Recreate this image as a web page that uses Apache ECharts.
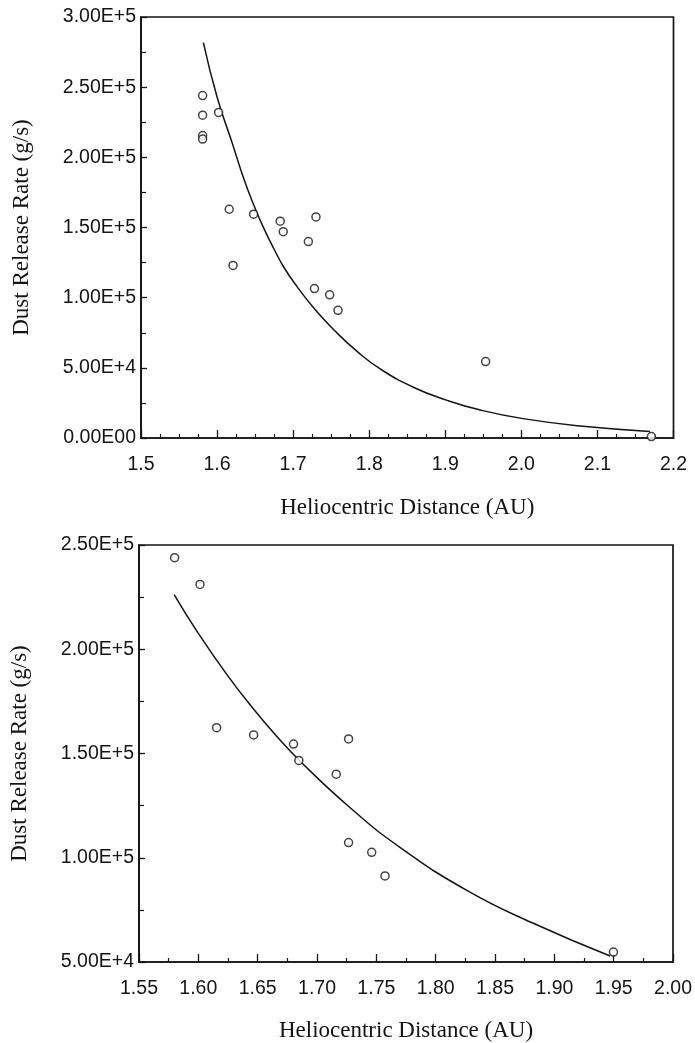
<!DOCTYPE html>
<html><head><meta charset="utf-8">
<script src="https://cdn.jsdelivr.net/npm/echarts@6/dist/echarts.min.js"></script>
<style>html,body{margin:0;padding:0;background:#fff}#c{width:695px;height:1043px}</style>
</head><body><div id="c"></div>
<script>
// ---- Top panel data ----
const topPointsX = [1.581, 1.581, 1.602, 1.581, 1.581, 1.616, 1.648, 1.683, 1.687, 1.720, 1.730, 1.621, 1.728, 1.748, 1.759, 1.953, 2.171];
const topPointsY = [244000, 230000, 232000, 215500, 213000, 163000, 159500, 154500, 147000, 140000, 157500, 123000, 106500, 102000, 91000, 54500, 1000];
const topCurveX = [1.582, 1.600, 1.620, 1.6356, 1.6487, 1.6618, 1.675, 1.688, 1.7056, 1.7274, 1.7537, 1.7844, 1.815, 1.8587, 1.9025, 1.9462, 2.0022, 2.0774, 2.169];
const topCurveY = [281700, 243000, 210000, 184000, 165500, 149000, 134500, 121500, 107500, 92500, 77000, 61500, 49000, 36000, 26800, 19900, 13800, 8500, 4700];
const topYLabels = ['0.00E00', '5.00E+4', '1.00E+5', '1.50E+5', '2.00E+5', '2.50E+5', '3.00E+5'];
const topXLabels = ['1.5', '1.6', '1.7', '1.8', '1.9', '2.0', '2.1', '2.2'];

// ---- Bottom panel data ----
const botPointsX = [1.580, 1.6014, 1.6154, 1.6466, 1.6802, 1.6847, 1.7266, 1.7162, 1.7266, 1.7461, 1.7573, 1.9498];
const botPointsY = [243900, 231100, 162400, 158900, 154500, 146700, 157000, 140100, 107300, 102600, 91300, 54750];
const botCurveX = [1.5796, 1.600, 1.625, 1.646, 1.666, 1.6858, 1.7277, 1.7696, 1.8255, 1.8813, 1.947];
const botCurveY = [226200, 207600, 187100, 171700, 158300, 146300, 124100, 105100, 84600, 68800, 52900];
const botYLabels = ['5.00E+4', '1.00E+5', '1.50E+5', '2.00E+5', '2.50E+5'];
const botXLabels = ['1.55', '1.60', '1.65', '1.70', '1.75', '1.80', '1.85', '1.90', '1.95', '2.00'];

const xTitle = 'Heliocentric Distance (AU)';
const yTitle = 'Dust Release Rate (g/s)';

const zip = (a, b) => a.map((v, i) => [v, b[i]]);
const INK = '#141414';
const SANS = '"Liberation Sans", Arial, sans-serif';
const SERIF = '"Liberation Serif", "Times New Roman", serif';

function xAxis(grid, min, max, interval, minorSplit, labels, gap) {
  return {
    gridIndex: grid, type: 'value', min: min, max: max, interval: interval,
    axisLine: { show: true, lineStyle: { color: INK, width: 1.7 } },
    axisTick: { show: true, inside: true, length: 8, lineStyle: { color: INK, width: 1.3 } },
    minorTick: { show: true, splitNumber: minorSplit, length: 4, lineStyle: { color: INK, width: 1.2 } },
    splitLine: { show: false }, minorSplitLine: { show: false },
    axisLabel: {
      color: INK, fontFamily: SANS, fontSize: 19.5, margin: 17,
      formatter: v => labels[Math.round((v - min) / interval)]
    },
    name: xTitle, nameLocation: 'middle', nameGap: gap,
    nameTextStyle: { color: INK, fontFamily: SERIF, fontSize: 23 }
  };
}
function yAxis(grid, min, max, interval, labels) {
  return {
    gridIndex: grid, type: 'value', min: min, max: max, interval: interval,
    axisLine: { show: true, lineStyle: { color: INK, width: 1.7 } },
    axisTick: { show: true, inside: true, length: 6, lineStyle: { color: INK, width: 1.3 } },
    minorTick: { show: true, splitNumber: 2, length: 5, lineStyle: { color: INK, width: 1.2 } },
    splitLine: { show: false }, minorSplitLine: { show: false },
    axisLabel: {
      color: INK, fontFamily: SANS, fontSize: 19.5, margin: 5,
      formatter: v => labels[Math.round((v - min) / interval)]
    },
    name: yTitle, nameLocation: 'middle', nameGap: 108,
    nameTextStyle: { color: INK, fontFamily: SERIF, fontSize: 23 }
  };
}
const curveStyle = { color: INK, width: 1.5 };
const pointStyle = { color: '#fff', borderColor: INK, borderWidth: 1.5 };

const chart = echarts.init(document.getElementById('c'), null, { renderer: 'canvas' });
chart.setOption({
  animation: false,
  backgroundColor: '#fff',
  grid: [
    { left: 141, right: 21.5, top: 17, height: 421, show: true, borderColor: INK, borderWidth: 1.7, backgroundColor: 'transparent' },
    { left: 139, right: 20, top: 545, height: 421, show: true, borderColor: INK, borderWidth: 1.7, backgroundColor: 'transparent' }
  ],
  xAxis: [
    xAxis(0, 1.5, 2.2, 0.1, 4, topXLabels, 58),
    xAxis(1, 1.55, 2.0, 0.05, 2, botXLabels, 57)
  ],
  yAxis: [
    yAxis(0, 0, 300000, 50000, topYLabels),
    yAxis(1, 50000, 250000, 50000, botYLabels)
  ],
  series: [
    { type: 'line', xAxisIndex: 0, yAxisIndex: 0, data: zip(topCurveX, topCurveY), smooth: 0.5, symbol: 'none', lineStyle: curveStyle, z: 1 },
    { type: 'scatter', xAxisIndex: 0, yAxisIndex: 0, data: zip(topPointsX, topPointsY), symbol: 'circle', symbolSize: 8, itemStyle: pointStyle, z: 2, clip: false },
    { type: 'line', xAxisIndex: 1, yAxisIndex: 1, data: zip(botCurveX, botCurveY), smooth: 0.5, symbol: 'none', lineStyle: curveStyle, z: 1 },
    { type: 'scatter', xAxisIndex: 1, yAxisIndex: 1, data: zip(botPointsX, botPointsY), symbol: 'circle', symbolSize: 8, itemStyle: pointStyle, z: 2, clip: false }
  ]
});
</script>
</body></html>
